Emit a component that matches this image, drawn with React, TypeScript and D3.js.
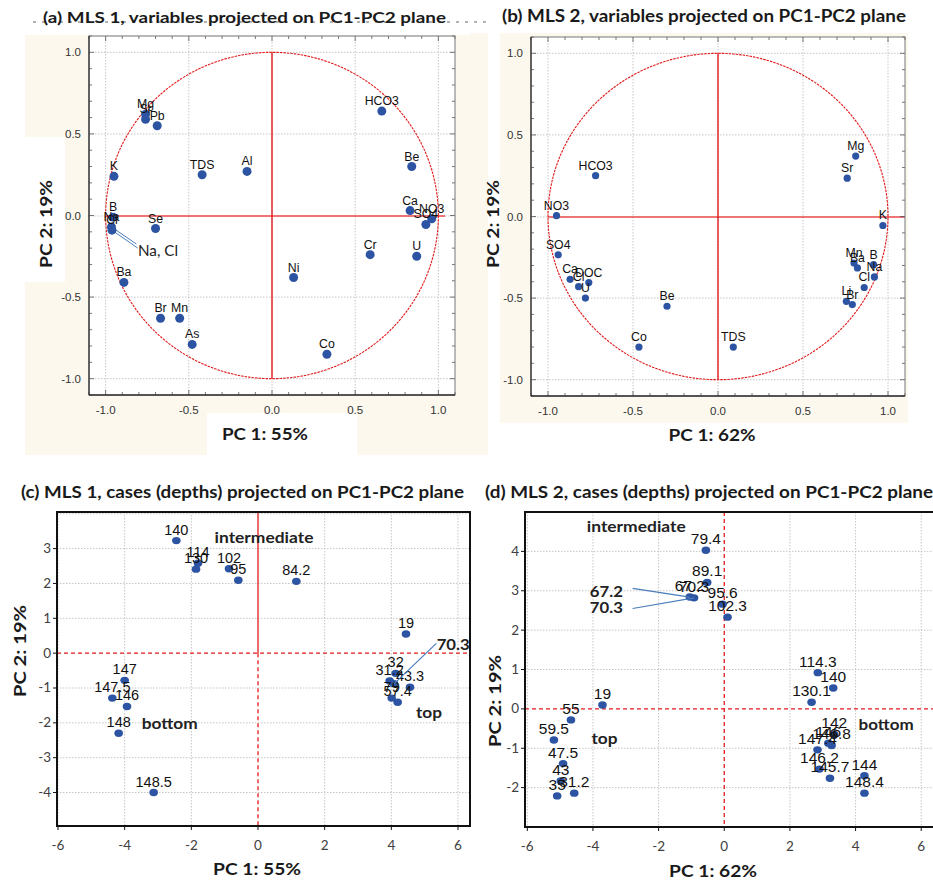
import React from 'react';
import * as d3 from 'd3';

const BLUE = '#2d54a3';
const RED = '#e41a1c';
const CREAM = '#fcf8ed';
const GRID = '#c6c6c6';
const ARIAL = "'Liberation Sans', Arial, sans-serif";
const CALIBRI = "Lato, 'Open Sans', sans-serif";

// (a) MLS 1, variable loadings
const varsA = ['Mg', 'Sr', 'Pb', 'K', 'TDS', 'Al', 'HCO3', 'Be', 'Ca', 'NO3', 'SO4', 'Cr', 'U', 'Ni', 'Co', 'Se', 'B', 'Na', 'Cl', 'Ba', 'Br', 'Mn', 'As'];
const pc1A = [-0.76, -0.76, -0.69, -0.95, -0.42, -0.15, 0.66, 0.84, 0.83, 0.96, 0.925, 0.59, 0.87, 0.13, 0.33, -0.70, -0.955, -0.965, -0.962, -0.89, -0.67, -0.555, -0.48];
const pc2A = [0.62, 0.59, 0.55, 0.24, 0.25, 0.27, 0.64, 0.30, 0.03, -0.02, -0.055, -0.24, -0.25, -0.38, -0.85, -0.08, -0.01, -0.07, -0.09, -0.41, -0.63, -0.63, -0.79];

// (b) MLS 2, variable loadings
const varsB = ['Mg', 'Sr', 'HCO3', 'NO3', 'K', 'SO4', 'Ca', 'DOC', 'Cl', 'U', 'Be', 'Co', 'TDS', 'Mn', 'Ba', 'B', 'Na', 'Cl', 'Li', 'Br'];
const pc1B = [0.81, 0.76, -0.72, -0.95, 0.97, -0.94, -0.87, -0.76, -0.82, -0.78, -0.30, -0.465, 0.09, 0.80, 0.82, 0.915, 0.92, 0.86, 0.755, 0.79];
const pc2B = [0.37, 0.235, 0.25, 0.005, -0.055, -0.235, -0.385, -0.405, -0.43, -0.50, -0.55, -0.80, -0.80, -0.285, -0.315, -0.295, -0.37, -0.435, -0.52, -0.54];

// (c) MLS 1, cases (depths)
const depthsC = ['140', '114', '130', '102', '95', '84.2', '19', '32', '31.2', '43.3', '70.3', '79', '57.4', '147', '147.5', '146', '148', '148.5'];
const pc1C = [-2.45, -1.80, -1.86, -0.87, -0.59, 1.15, 4.44, 4.13, 3.95, 4.56, 4.08, 4.01, 4.19, -4.0, -4.37, -3.93, -4.18, -3.13];
const pc2C = [3.23, 2.58, 2.41, 2.42, 2.09, 2.06, 0.55, -0.58, -0.80, -0.98, -0.88, -1.29, -1.41, -0.78, -1.29, -1.53, -2.30, -4.0];

// (d) MLS 2, cases (depths)
const depthsD = ['79.4', '89.1', '67.2', '70.3', '95.6', '102.3', '114.3', '140', '130.1', '19', '55', '59.5', '47.5', '43', '35', '31.2', '142', '146', '146.8', '147.4', '146.2', '145.7', '144', '148.4'];
const pc1D = [-0.56, -0.52, -1.05, -0.92, -0.05, 0.10, 2.85, 3.32, 2.66, -3.71, -4.67, -5.19, -4.91, -4.98, -5.09, -4.57, 3.35, 3.17, 3.27, 2.84, 2.90, 3.22, 4.27, 4.27];
const pc2D = [4.03, 3.21, 2.84, 2.82, 2.66, 2.33, 0.92, 0.53, 0.17, 0.10, -0.28, -0.79, -1.39, -1.83, -2.21, -2.14, -0.65, -0.87, -0.93, -1.04, -1.53, -1.76, -1.70, -2.14];

const ticksXC = [-6, -4, -2, 0, 2, 4, 6];
const ticksYC = [-4, -3, -2, -1, 0, 1, 2, 3];
const ticksYD = [-2, -1, 0, 1, 2, 3, 4];
const ticksLoad = [-1, -0.5, 0, 0.5, 1];

// annotations (group names and call-outs), in data units
const groupsC = [
  { text: 'intermediate', at: [0.18, 3.15], w: 99 },
  { text: 'bottom', at: [-2.65, -2.19], w: 56 },
  { text: 'top', at: [5.13, -1.87], w: 26 },
];
const groupsD = [
  { text: 'intermediate', at: [-2.68, 4.48], w: 99 },
  { text: 'top', at: [-3.65, -0.89], w: 26 },
  { text: 'bottom', at: [4.93, -0.54], w: 55 },
];
const calloutsA = [
  { from: 'Na', end: [-0.815, -0.175] },
  { from: 'Cl', end: [-0.808, -0.199] },
];
const calloutsC = [{ from: '70.3', text: '70.3', end: [5.35, 0.28], textAt: [5.36, 0.09], anchor: 'start' }];
const calloutsD = [
  { from: '67.2', text: '67.2', end: [-2.79, 3.06], textAt: [-3.09, 2.85], anchor: 'end' },
  { from: '70.3', text: '70.3', end: [-2.79, 2.55], textAt: [-3.09, 2.44], anchor: 'end' },
];

function LoadingPlot({ left, top, right, bottom, names, pc1, pc2, r, hEnd, callouts }: any) {
  const x = d3.scaleLinear().domain([-1.1, 1.1]).range([left, right]);
  const y = d3.scaleLinear().domain([-1.1, 1.1]).range([bottom, top]);
  const minor = d3.range(-11, 12).map(i => i / 10);
  const circle = d3.line()(d3.range(0, 361, 1).map(a => {
    const th = (a * Math.PI) / 180;
    return [x(Math.cos(th)), y(Math.sin(th))] as [number, number];
  }));
  const y0 = Math.round(y(0));
  return (
    <g>
      <rect x={left} y={top} width={right - left} height={bottom - top} fill="#fff" />
      {ticksLoad.map(v => (
        <g key={'g' + v}>
          <line x1={x(v)} x2={x(v)} y1={top} y2={bottom} stroke={GRID} strokeDasharray="1.5,1.5" />
          {v !== 0 && <line x1={left} x2={right} y1={y(v)} y2={y(v)} stroke={GRID} strokeDasharray="1.5,1.5" />}
        </g>
      ))}
      <line x1={x(hEnd)} x2={right} y1={y0} y2={y0} stroke={GRID} strokeDasharray="1.5,1.5" />
      <line x1={left} x2={x(-1)} y1={y0} y2={y0} stroke={GRID} strokeDasharray="1.5,1.5" />
      <path d={circle || ''} fill="none" stroke={RED} strokeWidth={1.1} strokeDasharray="2.5,1" />
      <line x1={x(0)} x2={x(0)} y1={y(1)} y2={y(-1)} stroke={RED} strokeWidth={1.4} />
      <rect x={x(-1)} y={y0 - 0.6} width={x(hEnd) - x(-1)} height={1.2} fill={RED} />
      {minor.map(v => {
        const len = Math.abs(v * 2 - Math.round(v * 2)) < 1e-6 ? 5 : 3;
        return (
          <g key={'t' + v} stroke="#555" strokeWidth={0.8}>
            <line x1={left} x2={left + len} y1={y(v)} y2={y(v)} />
            <line x1={right} x2={right - len} y1={y(v)} y2={y(v)} />
            <line x1={x(v)} x2={x(v)} y1={top} y2={top + len} />
            <line x1={x(v)} x2={x(v)} y1={bottom} y2={bottom - len} />
          </g>
        );
      })}
      <rect x={left} y={top} width={right - left} height={bottom - top} fill="none" stroke="#777" strokeWidth={1} />
      <line x1={left} x2={left} y1={top} y2={bottom} stroke="#333" strokeWidth={1.3} />
      <line x1={left} x2={right} y1={bottom} y2={bottom} stroke="#333" strokeWidth={1.3} />
      {(callouts || []).map((c: any, i: number) => {
        const k = names.indexOf(c.from);
        return <line key={'c' + i} x1={x(pc1[k])} y1={y(pc2[k])} x2={x(c.end[0])} y2={y(c.end[1])} stroke="#4a7ebb" strokeWidth={1} />;
      })}
      {names.map((n: string, i: number) => (
        <circle key={'p' + i} cx={x(pc1[i])} cy={y(pc2[i])} r={r} fill={BLUE} />
      ))}
      {names.map((n: string, i: number) => (
        <text key={'l' + i} x={x(pc1[i])} y={y(pc2[i]) - 6} textAnchor="middle" fontFamily={ARIAL} fontSize={12.3} fill="#111">{n}</text>
      ))}
      {ticksLoad.map(v => (
        <g key={'tl' + v} fontFamily={ARIAL} fontSize={11.5} fill="#333">
          <text x={x(v)} y={bottom + 19} textAnchor="middle">{v.toFixed(1)}</text>
          <text x={left - 8} y={y(v) + 4} textAnchor="end">{v.toFixed(1)}</text>
        </g>
      ))}
    </g>
  );
}

function CasePlot({ left, top, right, bottom, xDom, yDom, names, pc1, pc2, yTicks, fontSize, groups, callouts, noLabel, splitV }: any) {
  const x = d3.scaleLinear().domain(xDom).range([left, right]);
  const y = d3.scaleLinear().domain(yDom).range([bottom, top]);
  const gridX = ticksXC.filter(v => v !== 0);
  const gridY = d3.range(Math.ceil(yDom[0]), Math.floor(yDom[1]) + 1).filter(v => v !== 0);
  return (
    <g>
      <rect x={left} y={top} width={right - left} height={bottom - top} fill="#fff" />
      {gridX.map(v => <line key={'gx' + v} x1={x(v)} x2={x(v)} y1={top} y2={bottom} stroke={GRID} strokeDasharray="1.5,1.5" />)}
      {gridY.map(v => <line key={'gy' + v} x1={left} x2={right} y1={y(v)} y2={y(v)} stroke={GRID} strokeDasharray="1.5,1.5" />)}
      {splitV ? (
        <g>
          <line x1={x(0)} x2={x(0)} y1={top} y2={y(0)} stroke={RED} strokeWidth={1.3} />
          <line x1={x(0)} x2={x(0)} y1={y(0)} y2={bottom} stroke={RED} strokeWidth={1.3} strokeDasharray="4,3" />
        </g>
      ) : (
        <line x1={x(0)} x2={x(0)} y1={top} y2={bottom} stroke={RED} strokeWidth={1.3} strokeDasharray="4,3" />
      )}
      <line x1={left} x2={right} y1={y(0)} y2={y(0)} stroke={RED} strokeWidth={1.3} strokeDasharray="4,3" />
      <rect x={left} y={top} width={right - left} height={bottom - top} fill="none" stroke="#111" strokeWidth={2} />
      {yTicks.map((v: number) => <line key={'yt' + v} x1={left - 4} x2={left} y1={y(v)} y2={y(v)} stroke="#111" />)}
      {ticksXC.map(v => <line key={'xt' + v} x1={x(v)} x2={x(v)} y1={bottom} y2={bottom + 4} stroke="#111" />)}
      {names.map((n: string, i: number) => (
        <ellipse key={'p' + i} cx={x(pc1[i])} cy={y(pc2[i])} rx={4.3} ry={3.7} fill={BLUE} />
      ))}
      {names.map((n: string, i: number) => (noLabel && noLabel.includes(n) ? null : (
        <text key={'l' + i} x={x(pc1[i])} y={y(pc2[i]) - 6} textAnchor="middle" fontFamily={ARIAL} fontSize={fontSize} fill="#111">{n}</text>
      )))}
      {callouts.map((c: any, i: number) => {
        const k = names.indexOf(c.from);
        return (
          <g key={'c' + i}>
            <line x1={x(pc1[k])} y1={y(pc2[k])} x2={x(c.end[0])} y2={y(c.end[1])} stroke="#4a7ebb" strokeWidth={1.2} />
            <text x={x(c.textAt[0])} y={y(c.textAt[1])} textAnchor={c.anchor} fontFamily={CALIBRI} fontWeight={700} fontSize={16} textLength={33} lengthAdjust="spacingAndGlyphs" fill="#222">{c.text}</text>
          </g>
        );
      })}
      {groups.map((g: any) => (
        <text key={g.text} x={x(g.at[0])} y={y(g.at[1])} textAnchor="middle" fontFamily={CALIBRI} fontWeight={700} fontSize={15.5} textLength={g.w} lengthAdjust="spacingAndGlyphs" fill="#222">{g.text}</text>
      ))}
      {ticksXC.map(v => (
        <text key={'xl' + v} x={x(v)} y={bottom + 24} textAnchor="middle" fontFamily={CALIBRI} fontSize={13.5} fill="#404040">{String(v)}</text>
      ))}
      {yTicks.map((v: number) => (
        <text key={'yl' + v} x={left - 6} y={y(v) + 4.5} textAnchor="end" fontFamily={CALIBRI} fontSize={13.5} fill="#404040">{String(v)}</text>
      ))}
    </g>
  );
}

const Title = ({ x, y, w, size, children }: any) => (
  <text x={x} y={y} fontFamily={CALIBRI} fontWeight={700} fontSize={size} textLength={w} lengthAdjust="spacingAndGlyphs" fill="#1a1a1a">{children}</text>
);

const AxisLabel = ({ x, y, w, rotate, children }: any) => (
  <text transform={`translate(${x},${y})${rotate ? ' rotate(-90)' : ''}`} textAnchor="middle" dy="0.35em" fontFamily={CALIBRI} fontWeight={700} fontSize={17} textLength={w} lengthAdjust="spacingAndGlyphs" fill="#1a1a1a">{children}</text>
);

export default function App() {
  return (
    <svg width={933} height={880} style={{ position: 'absolute', left: 0, top: 0, background: '#fff' }}>
      {/* paper-coloured backgrounds */}
      <rect x={25} y={35} width={445} height={420} fill={CREAM} />
      <rect x={25} y={137} width={40} height={145} fill="#fff" />
      <rect x={207} y={413} width={150} height={42} fill="#fff" />
      <rect x={470} y={33} width={18} height={422} fill={CREAM} />
      <rect x={500} y={33} width={408} height={390} fill={CREAM} />
      <line x1={33} x2={492} y1={22} y2={22} stroke="#666" strokeDasharray="3,6" />

      <Title x={43} y={23} w={403} size={16}>(a) MLS 1, variables projected on PC1-PC2 plane</Title>
      <Title x={502} y={21.5} w={404} size={16.5}>(b) MLS 2, variables projected on PC1-PC2 plane</Title>
      <Title x={21} y={498} w={443} size={17.5}>(c) MLS 1, cases (depths) projected on PC1-PC2 plane</Title>
      <Title x={485} y={498} w={448} size={17.5}>(d) MLS 2, cases (depths) projected on PC1-PC2 plane</Title>

      <LoadingPlot left={89} top={36} right={455} bottom={395} names={varsA} pc1={pc1A} pc2={pc2A} r={4.5} hEnd={1.04} callouts={calloutsA} />
      <text x={138} y={256} fontFamily={CALIBRI} fontSize={15} textLength={40} lengthAdjust="spacingAndGlyphs" fill="#222">Na, Cl</text>
      <LoadingPlot left={531} top={37} right={905} bottom={396} names={varsB} pc1={pc1B} pc2={pc2B} r={3.6} hEnd={1.1} callouts={[]} />

      <CasePlot left={57} top={512} right={470} bottom={826} xDom={[-6.03, 6.36]} yDom={[-4.96, 4.05]}
        names={depthsC} pc1={pc1C} pc2={pc2C} yTicks={ticksYC} fontSize={14.5} groups={groupsC} callouts={calloutsC} noLabel={['70.3']} splitV />
      <CasePlot left={525} top={512} right={936} bottom={827} xDom={[-6.07, 6.45]} yDom={[-3, 5]}
        names={depthsD} pc1={pc1D} pc2={pc2D} yTicks={ticksYD} fontSize={15.5} groups={groupsD} callouts={calloutsD} noLabel={[]} />

      <AxisLabel x={265} y={434} w={86}>PC 1: 55%</AxisLabel>
      <AxisLabel x={712} y={435} w={87}>PC 1: 62%</AxisLabel>
      <AxisLabel x={257} y={869} w={88}>PC 1: 55%</AxisLabel>
      <AxisLabel x={713} y={871} w={88}>PC 1: 62%</AxisLabel>
      <AxisLabel x={46} y={224} w={88} rotate>PC 2: 19%</AxisLabel>
      <AxisLabel x={493} y={224} w={88} rotate>PC 2: 19%</AxisLabel>
      <AxisLabel x={20} y={651} w={92} rotate>PC 2: 19%</AxisLabel>
      <AxisLabel x={495} y={701} w={92} rotate>PC 2: 19%</AxisLabel>
    </svg>
  );
}
